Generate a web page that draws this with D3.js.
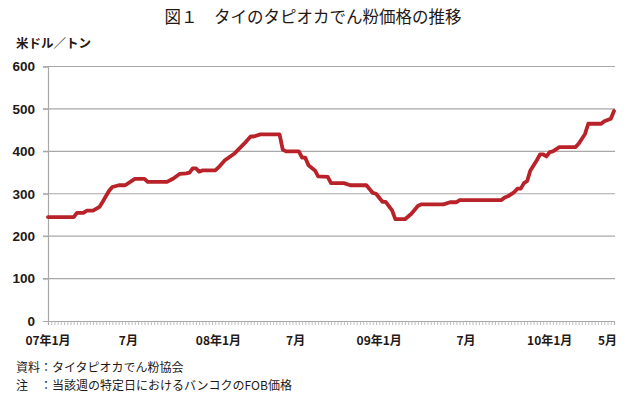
<!DOCTYPE html>
<html>
<head>
<meta charset="utf-8">
<script src="https://cdn.jsdelivr.net/npm/d3@7"></script>
<style>
body { margin: 0; background: #fff; }
svg text { fill: #231815; }
</style>
</head>
<body>
<div id="chart"></div>
<script>
// 週番号（07年1月第1週 = 0）と価格（米ドル/トン）。値が変わる週だけを読み取り
var weeks = [0, 8, 9, 11, 12, 14, 16, 17, 19, 20, 22, 24, 27, 30, 31, 37, 39, 41, 43, 44,
    45, 46, 47, 48, 52, 53, 55, 58, 61, 63, 64, 66, 72, 73, 74, 78, 79, 80, 81, 83,
    84, 87, 88, 92, 94, 99, 101, 102, 104, 105, 107, 108, 111, 113, 115, 116, 123, 125, 127, 128,
    141, 142, 143, 145, 146, 147, 148, 149, 150, 152, 153, 154, 155, 156, 157, 159, 164, 165, 167, 168,
    172, 173, 175, 176];
var price = [245, 245, 255, 255, 260, 260, 269, 281, 307, 316, 320, 320, 335, 335, 328, 328, 336, 347, 348, 350,
    360, 360, 352, 355, 355, 362, 379, 395, 418, 435, 435, 440, 440, 404, 400, 400, 385, 385, 367, 355,
    341, 340, 325, 325, 320, 320, 302, 300, 281, 281, 261, 240, 240, 253, 271, 275, 275, 280, 280, 285,
    285, 291, 294, 304, 312, 312, 325, 330, 355, 379, 393, 393, 388, 398, 400, 410, 410, 418, 441, 465,
    465, 471, 477, 495];

var lastWeek = 176;
var tickWeeks = [0, 25, 53, 77, 103, 130, 156, 174];
var tickLabels = ['07年1月', '7月', '08年1月', '7月', '09年1月', '7月', '10年1月', '5月'];
var yTicks = [0, 100, 200, 300, 400, 500, 600];

var width = 629;
var height = 398;
var padding = {top: 66.5, right: 15, bottom: 77, left: 48};

var xScale = d3.scaleLinear()
    .domain([0, lastWeek])
    .range([padding.left, width - padding.right]);
var yScale = d3.scaleLinear()
    .domain([0, 600])
    .range([height - padding.bottom, padding.top]);

var svg = d3.select('#chart')
    .append('svg')
    .attr('width', width)
    .attr('height', height)
    .style('font-family', '"Noto Sans CJK JP", "Noto Sans", sans-serif');

// タイトル
svg.append('text')
    .attr('x', 313)
    .attr('y', 23)
    .attr('text-anchor', 'middle')
    .style('font-size', '16.5px')
    .text('図１　タイのタピオカでん粉価格の推移');

svg.append('text')
    .attr('x', 16)
    .attr('y', 48)
    .style('font-size', '12.5px')
    .style('font-weight', 'bold')
    .text('米ドル／トン');

// 横の目盛線
svg.append('g')
    .selectAll('line')
    .data(yTicks.filter(function (d) { return d > 0; }))
    .enter()
    .append('line')
    .attr('x1', padding.left - 5)
    .attr('x2', xScale(lastWeek) + 1)
    .attr('y1', function (d) { return yScale(d); })
    .attr('y2', function (d) { return yScale(d); })
    .attr('stroke', '#a8a8a8')
    .attr('stroke-width', 1.2);

var yAxis = d3.axisLeft(yScale)
    .tickValues(yTicks)
    .tickSize(5)
    .tickPadding(8);
var yg = svg.append('g')
    .attr('transform', 'translate(' + padding.left + ',0)')
    .call(yAxis);
yg.select('.domain').attr('stroke', '#a8a8a8').attr('stroke-width', 1.2);
yg.selectAll('.tick line').attr('stroke', '#a8a8a8');
yg.selectAll('.tick text')
    .style('font-family', '"Liberation Sans", Arial, sans-serif')
    .style('font-size', '13.5px')
    .style('font-weight', 'bold')
    .attr('fill', '#231815');

// 横軸（週ごとの小目盛）
var xAxis = d3.axisBottom(xScale)
    .tickValues(d3.range(0, lastWeek + 1))
    .tickSize(4)
    .tickFormat('');
var xg = svg.append('g')
    .attr('transform', 'translate(0,' + yScale(0) + ')')
    .call(xAxis);
xg.select('.domain').attr('stroke', '#a8a8a8').attr('stroke-width', 1.2);
xg.selectAll('.tick line').attr('stroke', '#b0b0b0').attr('stroke-width', 0.8);

svg.append('g')
    .selectAll('text')
    .data(tickWeeks)
    .enter()
    .append('text')
    .attr('x', function (d) { return xScale(d); })
    .attr('y', yScale(0) + 24)
    .attr('text-anchor', 'middle')
    .style('font-size', '12px')
    .style('font-weight', 'bold')
    .text(function (d, i) { return tickLabels[i]; });

// 価格の線
var linePath = d3.line()
    .x(function (d) { return xScale(d); })
    .y(function (d, i) { return yScale(price[i]); });
svg.append('path')
    .attr('d', linePath(weeks))
    .attr('fill', 'none')
    .attr('stroke', '#b82228')
    .attr('stroke-width', 3.8)
    .attr('stroke-linejoin', 'round')
    .attr('stroke-linecap', 'round');

// 注記
svg.append('text')
    .attr('x', 16)
    .attr('y', 372)
    .style('font-size', '12px')
    .text('資料：タイタピオカでん粉協会');
svg.append('text')
    .attr('x', 16)
    .attr('y', 390)
    .style('font-size', '12px')
    .text('注　：当該週の特定日におけるバンコクのFOB価格');
</script>
</body>
</html>
